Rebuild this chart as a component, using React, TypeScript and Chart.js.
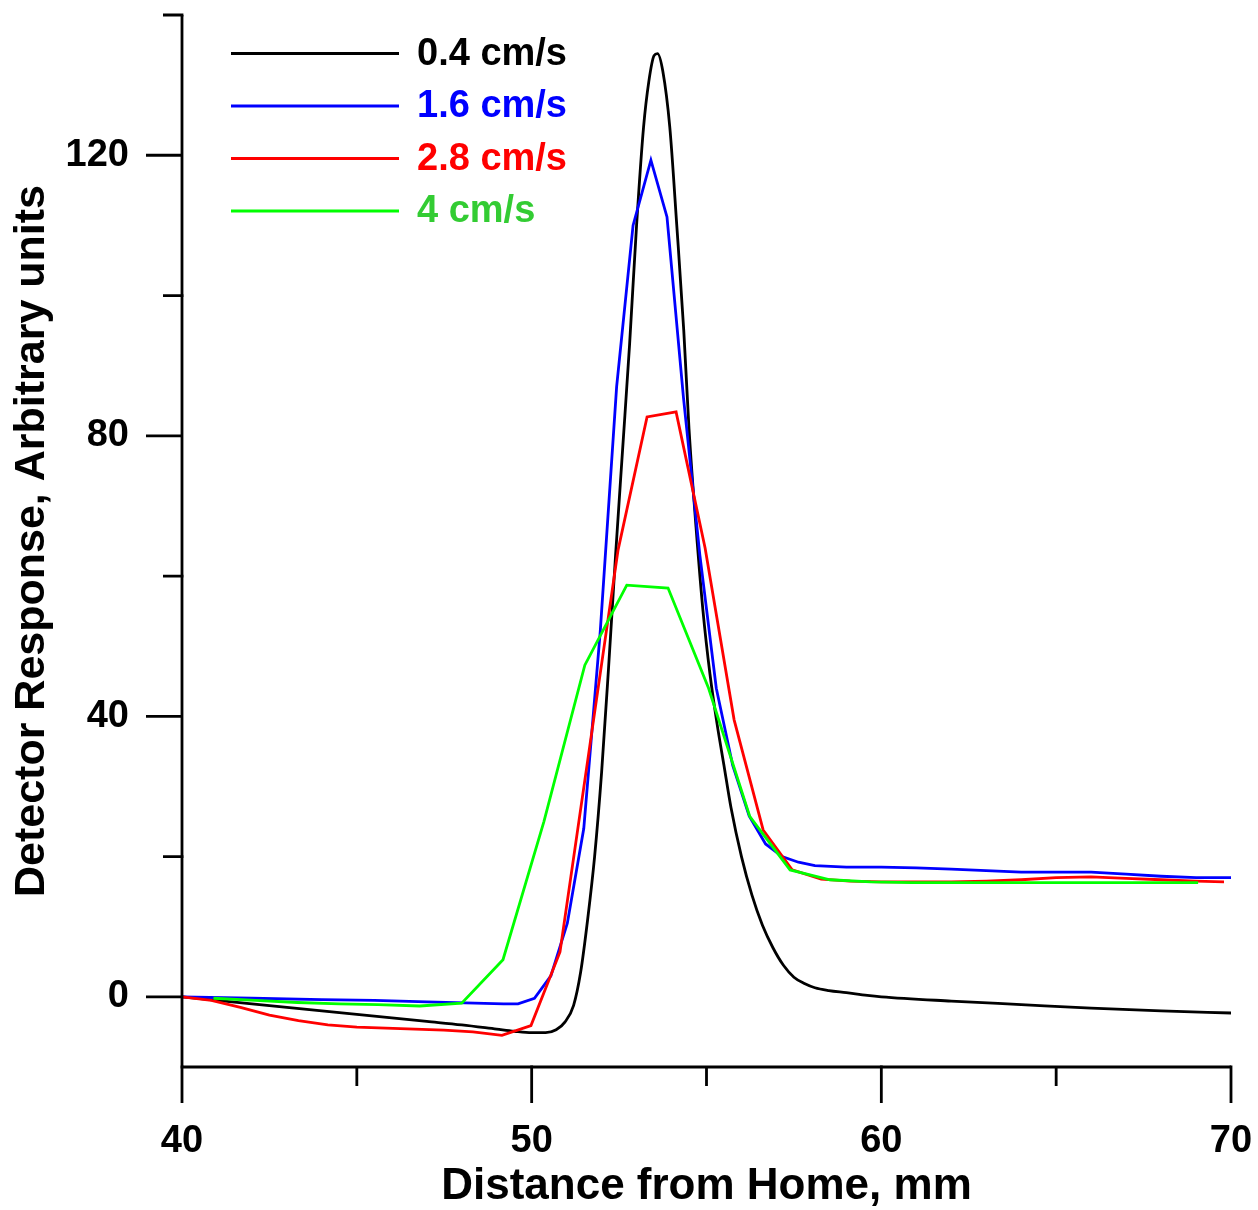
import React, { useEffect, useRef } from 'react';
import { Chart, registerables } from 'chart.js';

Chart.register(...registerables);

const FONT = '"Liberation Sans", Arial, Helvetica, sans-serif';

// Series labels and colours
const SERIES_LABELS = ['0.4 cm/s', '1.6 cm/s', '2.8 cm/s', '4 cm/s'];
const LINE_COLORS = ['#000000', '#0000ff', '#ff0000', '#00ff00'];
const LABEL_COLORS = ['#000000', '#0000ff', '#ff0000', '#33cc33'];

// Axis ranges and ticks
const X_MIN = 40;
const X_MAX = 70;
const Y_MIN = -10;
const Y_MAX = 140;
const X_MAJOR = [40, 50, 60, 70];
const X_MINOR = [45, 55, 65];
const Y_MAJOR = [0, 40, 80, 120];
const Y_MINOR = [20, 60, 100, 140];

// 0.4 cm/s
const BLACK_X = [40, 41, 42, 43, 44, 45, 46, 47, 48, 49, 49.5, 50, 50.4, 50.7, 50.95, 51.2, 51.4, 51.6, 51.8, 52.0,
  52.2, 52.4, 52.6, 52.8, 53.0, 53.2, 53.35, 53.5, 53.6, 53.75, 53.95, 54.15, 54.35, 54.5, 54.7, 54.9, 55.1, 55.3,
  55.5, 55.7, 56.0, 56.3, 56.6, 56.9, 57.2, 57.5, 57.8, 58.1, 58.5, 59, 59.6, 60, 62, 64, 66, 68, 70];
const BLACK_Y = [0, -0.5, -1.0, -1.5, -2.0, -2.5, -3.0, -3.5, -4.0, -4.6, -4.9, -5.1, -5.1, -4.7, -3.6, -1.2, 3.5, 11, 20, 32,
  47, 63, 78, 93, 110, 124, 130.5, 134.2, 134.5, 132, 124, 110, 95, 81, 67, 55, 46, 39,
  33, 27, 20, 14.5, 10.2, 7.0, 4.5, 2.8, 1.9, 1.3, 0.9, 0.6, 0.2, 0, -0.6, -1.1, -1.6, -2.0, -2.3];

// 1.6 cm/s
const BLUE_X = [40, 42, 44, 45.5, 47, 49.2, 49.61, 50.08, 50.55, 51.02, 51.49, 51.96, 52.43, 52.9, 53.41, 53.87, 54.34,
  54.81, 55.28, 55.75, 56.22, 56.69, 57.16, 57.63, 58.1, 59, 60, 61, 62, 63, 64, 65, 66, 67, 68, 69, 70];
const BLUE_Y = [0, -0.2, -0.4, -0.5, -0.7, -1.0, -1.0, -0.2, 3, 10.5, 24, 52, 87, 110, 119.3, 111.2, 85.5,
  63, 44, 33, 25.8, 21.8, 20, 19.2, 18.7, 18.5, 18.5, 18.4, 18.2, 18.0, 17.8, 17.8, 17.8, 17.5, 17.2, 17.0, 17.0];

// 2.8 cm/s
const RED_X = [40, 40.84, 41.67, 42.5, 43.33, 44.17, 45.0, 45.83, 46.66, 47.49, 48.32, 49.15, 49.98, 50.81, 51.64,
  52.47, 53.3, 54.13, 54.96, 55.79, 56.62, 57.45, 58.28, 59.11, 60, 61, 62, 63, 64, 65, 66, 67, 68, 69, 69.8];
const RED_Y = [0, -0.5, -1.5, -2.6, -3.4, -4.0, -4.3, -4.45, -4.6, -4.75, -5.0, -5.5, -4.1, 6.4, 35,
  63.7, 82.7, 83.4, 64, 39.5, 23.8, 18.1, 16.8, 16.5, 16.4, 16.4, 16.4, 16.5, 16.7, 17.0, 17.1, 16.9, 16.7, 16.5, 16.4];

// 4 cm/s
const GREEN_X = [40.9, 42.1, 43.3, 44.5, 45.6, 46.8, 48.0, 49.18, 50.35, 51.52, 52.72, 53.9, 55.06, 56.24, 57.39,
  58.53, 59.7, 60.87, 62.04, 63.21, 64.38, 65.55, 66.72, 67.89, 69.06];
const GREEN_Y = [-0.2, -0.5, -0.8, -1.0, -1.1, -1.3, -0.9, 5.3, 25, 47.3, 58.7, 58.3, 44, 25.7, 18.1,
  16.7, 16.4, 16.3, 16.3, 16.3, 16.3, 16.3, 16.3, 16.3, 16.3];

const SERIES_X = [BLACK_X, BLUE_X, RED_X, GREEN_X];
const SERIES_Y = [BLACK_Y, BLUE_Y, RED_Y, GREEN_Y];

const toPoints = (xs: number[], ys: number[]) => xs.map((x, i) => ({ x, y: ys[i] }));

// Axis frame, outward tick marks and the in-plot legend
const framePlugin = {
  id: 'frameAndLegend',
  afterDraw(chart: any) {
    const { ctx, chartArea } = chart;
    const { left, right, top, bottom } = chartArea;
    const xs = chart.scales.x;
    const ys = chart.scales.y;
    const MAJOR = 36;
    const MINOR = 19;

    ctx.save();
    ctx.strokeStyle = '#000';
    ctx.lineWidth = 2.8;
    ctx.lineCap = 'butt';
    ctx.lineJoin = 'miter';

    // frame: left axis and bottom axis
    ctx.beginPath();
    ctx.moveTo(left, top);
    ctx.lineTo(left, bottom);
    ctx.lineTo(right, bottom);
    ctx.stroke();

    ctx.beginPath();
    Y_MAJOR.forEach((v) => {
      const p = ys.getPixelForValue(v);
      ctx.moveTo(left - MAJOR, p);
      ctx.lineTo(left, p);
    });
    Y_MINOR.forEach((v) => {
      const p = ys.getPixelForValue(v);
      ctx.moveTo(left - MINOR, p);
      ctx.lineTo(left + 1.4, p);
    });
    X_MAJOR.forEach((v) => {
      const p = xs.getPixelForValue(v);
      ctx.moveTo(p, bottom - 1.4);
      ctx.lineTo(p, bottom + MAJOR);
    });
    X_MINOR.forEach((v) => {
      const p = xs.getPixelForValue(v);
      ctx.moveTo(p, bottom);
      ctx.lineTo(p, bottom + MINOR);
    });
    ctx.stroke();

    // legend
    ctx.font = `bold 38px ${FONT}`;
    ctx.textBaseline = 'middle';
    ctx.textAlign = 'left';
    chart.data.datasets.forEach((ds: any, i: number) => {
      const yRow = top + 38.5 + i * 52.5;
      ctx.strokeStyle = ds.borderColor;
      ctx.lineWidth = 2.8;
      ctx.beginPath();
      ctx.moveTo(left + 49, yRow);
      ctx.lineTo(left + 217, yRow);
      ctx.stroke();
      ctx.fillStyle = LABEL_COLORS[i];
      ctx.fillText(ds.label, left + 235, yRow + 1);
    });
    ctx.restore();
  },
};

export default function App() {
  const canvasRef = useRef<HTMLCanvasElement>(null);

  useEffect(() => {
    const canvas = canvasRef.current;
    if (!canvas) return;

    const datasets = SERIES_LABELS.map((label, i) => ({
      label,
      data: toPoints(SERIES_X[i], SERIES_Y[i]),
      borderColor: LINE_COLORS[i],
      backgroundColor: LINE_COLORS[i],
      borderWidth: 2.8,
      pointRadius: 0,
      fill: false,
      tension: 0,
      cubicInterpolationMode: i === 0 ? ('monotone' as const) : ('default' as const),
      order: SERIES_LABELS.length - i,
    }));

    const chart = new Chart(canvas, {
      type: 'line',
      data: { datasets },
      options: {
        animation: false,
        responsive: false,
        devicePixelRatio: 1,
        events: [],
        layout: { padding: { top: 15, right: 27, bottom: 0, left: 0 } },
        plugins: {
          legend: { display: false },
          tooltip: { enabled: false },
        },
        scales: {
          x: {
            type: 'linear',
            position: 'bottom',
            min: X_MIN,
            max: X_MAX,
            afterBuildTicks: (s: any) => {
              s.ticks = X_MAJOR.map((value) => ({ value }));
            },
            afterFit: (s: any) => {
              s.height = 143;
              s.paddingLeft = 0;
              s.paddingRight = 0;
              s.paddingTop = 0;
              s.paddingBottom = 0;
            },
            grid: { display: false, drawTicks: false },
            border: { display: false },
            ticks: {
              color: '#000',
              padding: 55.5,
              autoSkip: false,
              maxRotation: 0,
              font: { family: FONT, size: 38, weight: 'bold', lineHeight: 1 },
            },
            title: {
              display: true,
              text: 'Distance from Home, mm',
              color: '#000',
              padding: { top: 0, bottom: 1 },
              font: { family: FONT, size: 44, weight: 'bold', lineHeight: 1 },
            },
          },
          y: {
            type: 'linear',
            position: 'left',
            min: Y_MIN,
            max: Y_MAX,
            afterBuildTicks: (s: any) => {
              s.ticks = Y_MAJOR.map((value) => ({ value }));
            },
            afterFit: (s: any) => {
              s.width = 182;
              s.paddingLeft = 0;
              s.paddingRight = 0;
              s.paddingTop = 0;
              s.paddingBottom = 0;
            },
            grid: { display: false, drawTicks: false },
            border: { display: false },
            ticks: {
              color: '#000',
              padding: 53,
              font: { family: FONT, size: 38, weight: 'bold', lineHeight: 1 },
            },
            title: {
              display: true,
              text: 'Detector Response, Arbitrary units',
              color: '#000',
              padding: { top: 11, bottom: 0 },
              font: { family: FONT, size: 43, weight: 'bold', lineHeight: 1 },
            },
          },
        },
      },
      plugins: [framePlugin],
    });

    return () => chart.destroy();
  }, []);

  return (
    <div style={{ position: 'absolute', left: 0, top: 0, width: 1258, height: 1210, background: '#ffffff' }}>
      <canvas ref={canvasRef} width={1258} height={1210} style={{ display: 'block', width: 1258, height: 1210 }} />
    </div>
  );
}
